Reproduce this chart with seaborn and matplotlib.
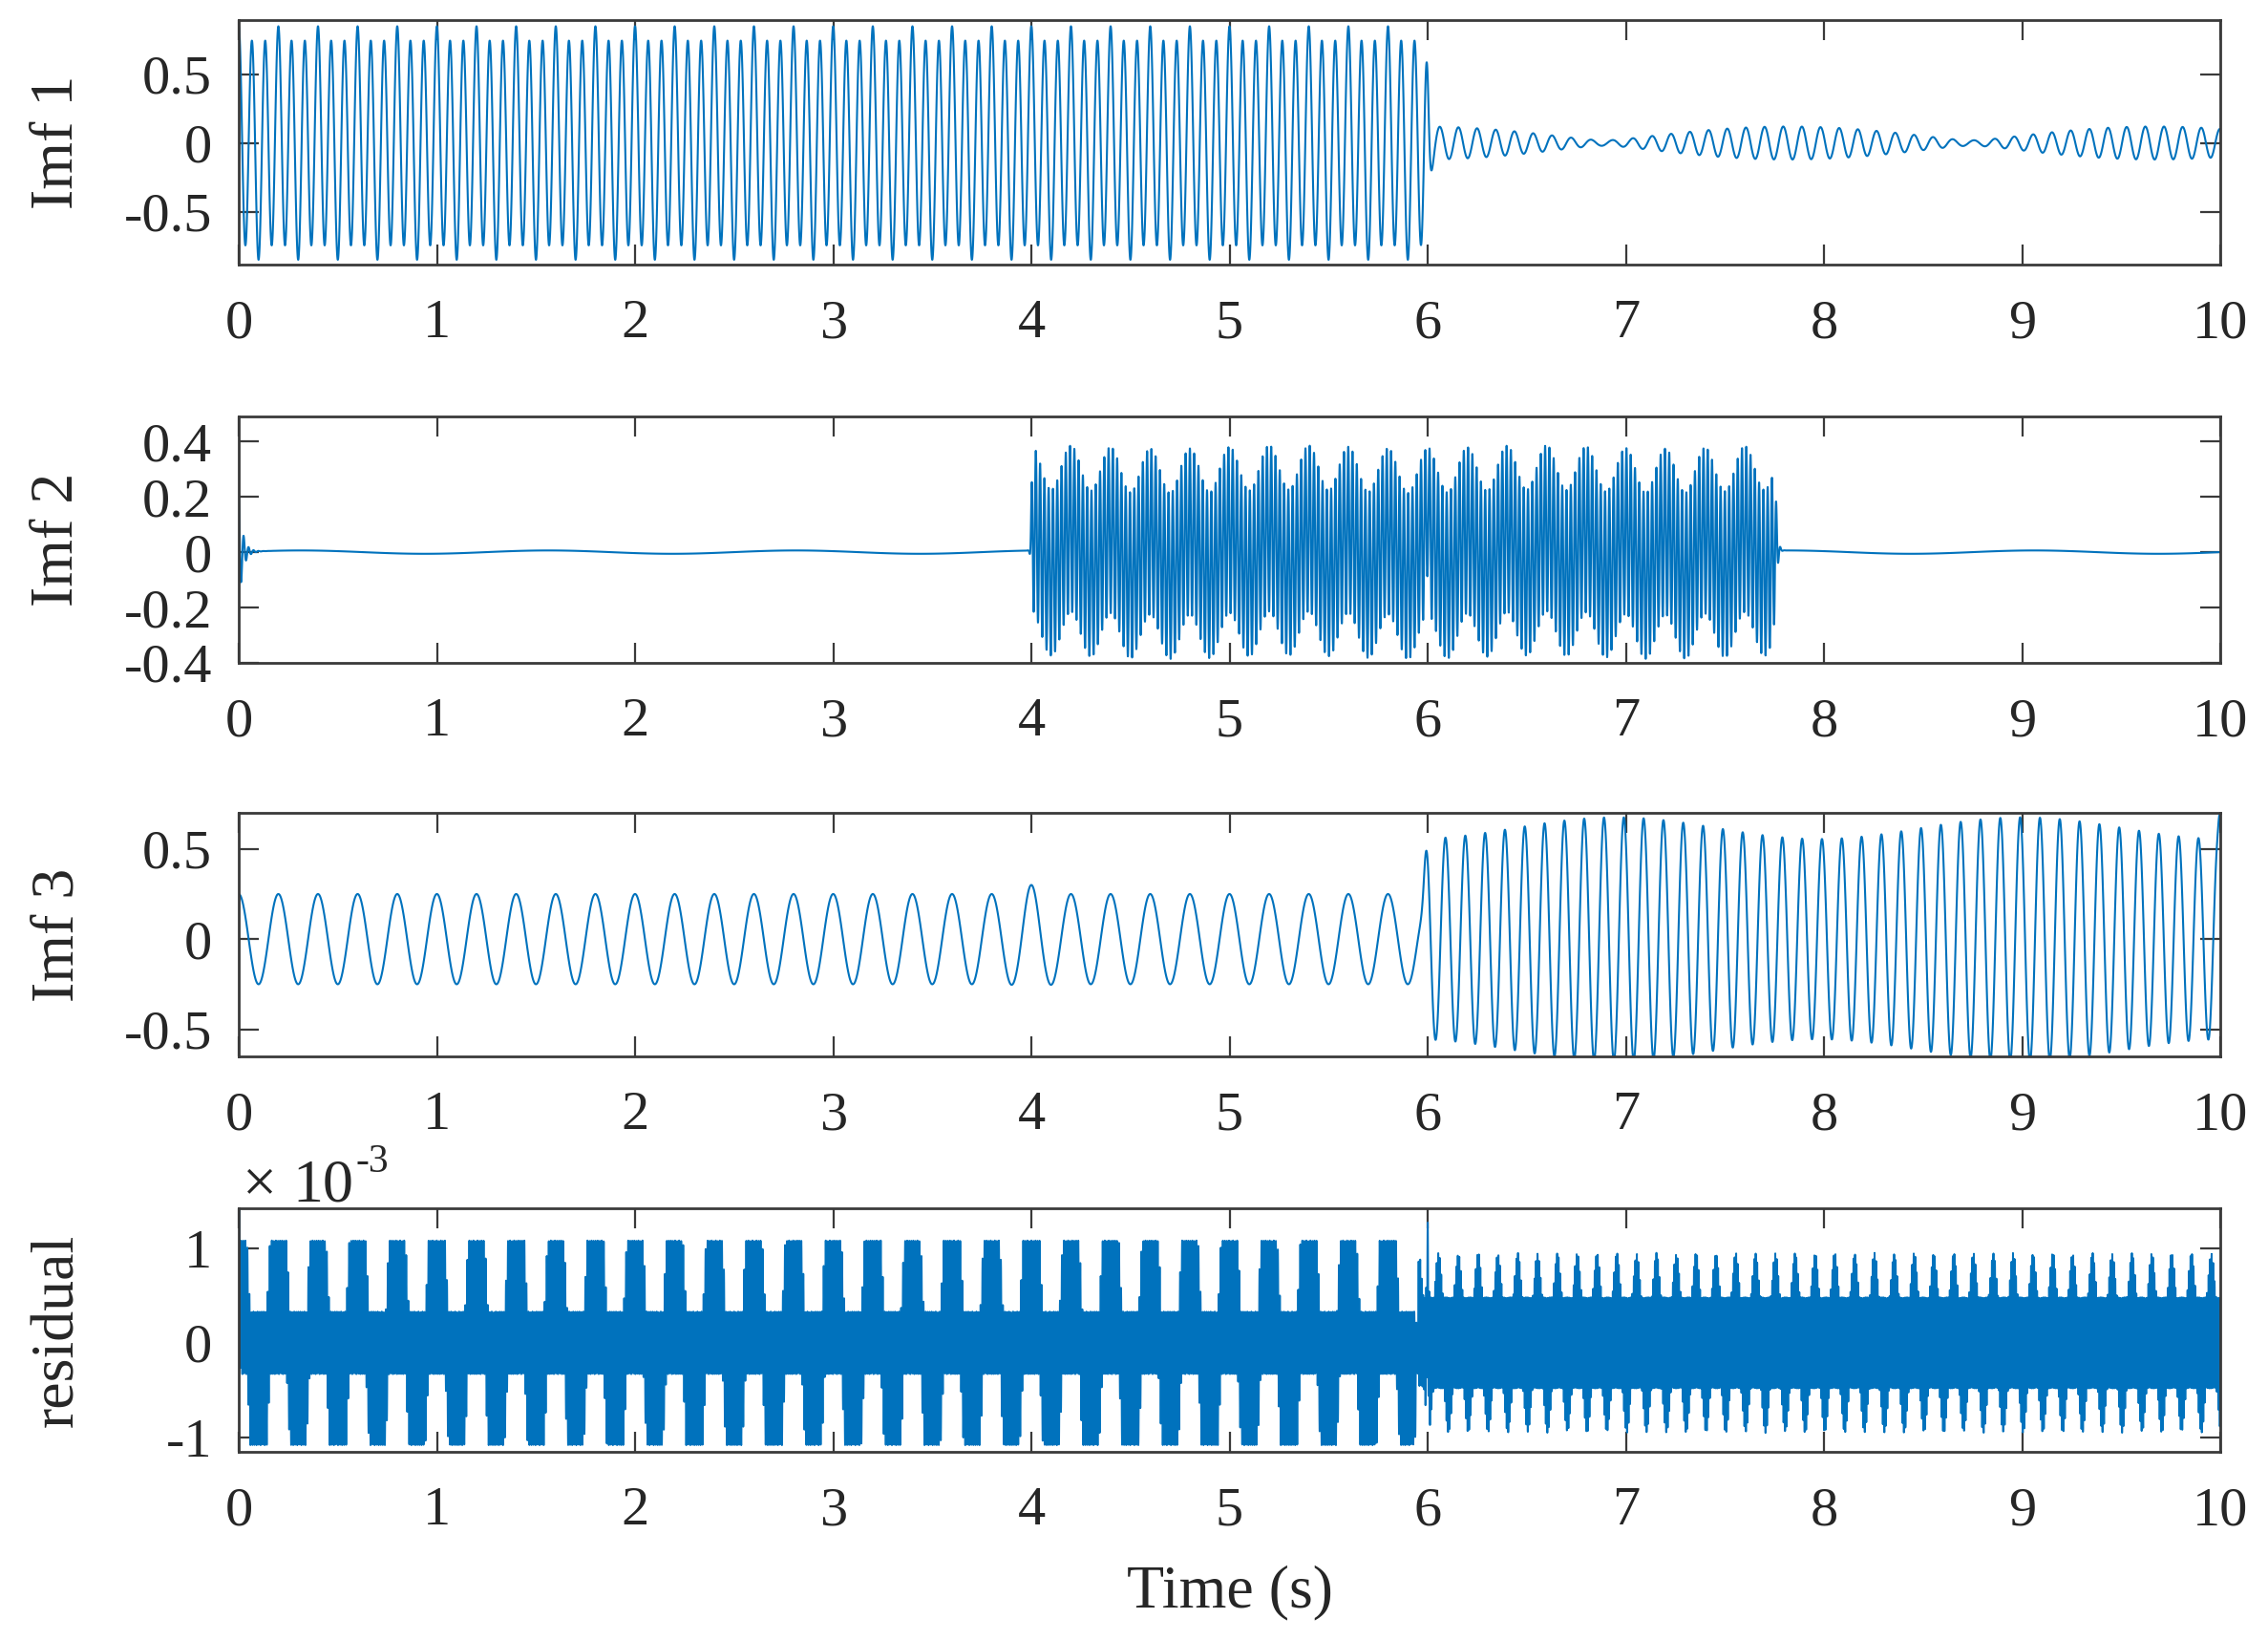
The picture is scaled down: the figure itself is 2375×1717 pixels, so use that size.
import numpy as np
import pandas as pd
import matplotlib
matplotlib.use("Agg")
import matplotlib.pyplot as plt
import seaborn as sns

# ----------------------------------------------------------------------------
# Values (time in s)
# ----------------------------------------------------------------------------
T_END = 10.0
FS = 2000  # samples per second

# Imf 1: 15 Hz tone with a small 5 Hz leak up to ~6 s, then a weak beating ~10 Hz tone
IMF1_EARLY_FREQS = [15.0, 5.0]
IMF1_EARLY_AMPS = [0.78, 0.07]
IMF1_SWITCH = 6.005
IMF1_LATE_FREQS = [10.4, 10.94]
IMF1_LATE_AMPS = [0.07, 0.05]
IMF1_LATE_T0 = 5.967
IMF1_KICK = [6.015, -0.08]          # (time, depth) of the dip after the switch

# Imf 2: burst between 4 s and 7.75 s
IMF2_BURST = [4.0, 7.76]
IMF2_FREQS = [46.3, 5.0]
IMF2_AMPS = [0.30, 0.08]
IMF2_RIPPLE = [0.8, 0.006]          # (freq, amp) of the near-zero ripple
IMF2_START_SPIKE = [40.0, 0.2]      # damped start transient (freq, amp)
IMF2_SPIKE = [6.0, 0.15]            # spike at 6 s (time, amp)

# Imf 3: 5 Hz tone, then 10 Hz tone with a slow envelope
IMF3_EARLY = [5.0, 0.25]            # (freq, amp)
IMF3_BUMP = [4.0, 0.05]             # small amplitude bump at 4 s
IMF3_SWITCH = 5.982
IMF3_LATE_FREQ = 10.0
IMF3_LATE_PEAK = 0.09               # phase: peaks at 6.09, 6.19, ...
IMF3_ENV = [0.615, 0.06]            # mean, swing of the envelope
IMF3_ENV_PERIOD = 2.05
IMF3_ENV_PEAK = 6.95
IMF3_END = [10.0, 0.2]              # end effect at the right edge

# residual, in units of 1e-3
RES_EARLY = [5.0, 0.375, 0.705]     # square-ish part freq, amp, carrier amp
RES_LATE = [10.0, 0.47, 0.48]       # spike rate, spike height, band half-width
RES_LATE_PEAK = 0.055
RES_CARRIERS = [97.3, 131.7]        # carrier freq before / after the switch
RES_SWITCH = 5.95
RES_SPIKES = [(0.0, 0.7), (6.0, 0.8)]

YLABELS = ["Imf 1", "Imf 2", "Imf 3", "residual"]
YTICKS = [[-0.5, 0, 0.5], [-0.4, -0.2, 0, 0.2, 0.4], [-0.5, 0, 0.5], [-1, 0, 1]]
YTICKLABELS = [["-0.5", "0", "0.5"], ["-0.4", "-0.2", "0", "0.2", "0.4"],
               ["-0.5", "0", "0.5"], ["-1", "0", "1"]]
YLIMS = [(-0.885, 0.895), (-0.40, 0.49), (-0.65, 0.70), (-1.15, 1.42)]
XTICKS = list(range(0, 11))

# ----------------------------------------------------------------------------
# build the component signals from the parameters above
# ----------------------------------------------------------------------------
t = np.arange(int(T_END * FS) + 1) / FS
tau = 2 * np.pi


def step(c, w):
    return 0.5 * (1 + np.tanh((t - c) / w))


early = sum(a * np.cos(tau * f * t) for f, a in zip(IMF1_EARLY_FREQS, IMF1_EARLY_AMPS))
late = sum(a * np.cos(tau * f * (t - IMF1_LATE_T0)) for f, a in zip(IMF1_LATE_FREQS, IMF1_LATE_AMPS))
imf1 = (early * (1 - step(IMF1_SWITCH, 0.012)) + late * step(5.99, 0.01)
        + IMF1_KICK[1] * np.exp(-((t - IMF1_KICK[0]) / 0.02) ** 2))

burst = step(IMF2_BURST[0], 0.006) * (1 - step(IMF2_BURST[1], 0.012))
imf2 = (burst * (IMF2_AMPS[0] * np.sin(tau * IMF2_FREQS[0] * t)
                 + IMF2_AMPS[1] * np.cos(tau * IMF2_FREQS[1] * t))
        + IMF2_RIPPLE[1] * np.sin(tau * IMF2_RIPPLE[0] * t)
        + IMF2_START_SPIKE[1] * np.exp(-t / 0.02) * np.cos(tau * IMF2_START_SPIKE[0] * t)
        + IMF2_SPIKE[1] * np.exp(-((t - IMF2_SPIKE[0]) / 0.005) ** 2))

on3 = step(IMF3_SWITCH, 0.015)
amp3 = IMF3_EARLY[1] + IMF3_BUMP[1] * np.exp(-((t - IMF3_BUMP[0]) / 0.06) ** 2)
env3 = IMF3_ENV[0] + IMF3_ENV[1] * np.cos(tau * (t - IMF3_ENV_PEAK) / IMF3_ENV_PERIOD)
imf3 = (amp3 * np.cos(tau * IMF3_EARLY[0] * t) * (1 - on3)
        + env3 * np.cos(tau * IMF3_LATE_FREQ * (t - IMF3_LATE_PEAK)) * on3
        + IMF3_END[1] * np.exp(-((t - IMF3_END[0]) / 0.01) ** 2))

on4 = step(RES_SWITCH, 0.01)
res_early = (RES_EARLY[1] * np.clip(4 * np.cos(tau * RES_EARLY[0] * t), -1, 1)
             + RES_EARLY[2] * np.sin(tau * RES_CARRIERS[0] * t))
# after the switch: solid band with alternating upper / lower spikes
phase = np.cos(tau * RES_LATE[0] * (t - RES_LATE_PEAK))
spike_up = np.clip(phase, 0, None) ** 1.5
spike_dn = np.clip(-phase, 0, None) ** 1.5
c4 = np.sin(tau * RES_CARRIERS[1] * t)
res_late = np.where(c4 > 0, c4 * (RES_LATE[2] + RES_LATE[1] * spike_up),
                    c4 * (RES_LATE[2] + RES_LATE[1] * spike_dn))
residual = res_early * (1 - on4) + res_late * on4
for ts, a in RES_SPIKES:
    residual = residual + a * np.exp(-((t - ts) / 0.005) ** 2)

df = pd.DataFrame({"t": t, "Imf 1": imf1, "Imf 2": imf2, "Imf 3": imf3, "residual": residual})

# ----------------------------------------------------------------------------
# figure
# ----------------------------------------------------------------------------
sns.set_theme(style="ticks")
plt.rcParams["font.family"] = ["Liberation Serif", "DejaVu Serif"]
plt.rcParams["axes.unicode_minus"] = False
plt.rcParams["path.simplify"] = False   # keep every oscillation of the dense traces

FRAME = "#3a3a3a"
TEXT = "#262626"
LINE = "#0072BD"

fig = plt.figure(figsize=(23.75, 17.17), dpi=100)
H = 1717.0
panel_px = [(21, 277), (436, 694), (851, 1106), (1265, 1520)]
left, width = 250 / 2375, (2325 - 250) / 2375
line_w = [1.5, 1.5, 1.5, 1.4]

for i, (col, (top, bot)) in enumerate(zip(YLABELS, panel_px)):
    ax = fig.add_axes([left, 1 - bot / H, width, (bot - top) / H])
    sns.lineplot(data=df, x="t", y=col, ax=ax, color=LINE, linewidth=line_w[i],
                 estimator=None, errorbar=None, sort=False)
    ax.set_xlim(0, T_END)
    ax.set_ylim(*YLIMS[i])
    ax.set_xticks(XTICKS)
    ax.set_xticklabels([str(x) for x in XTICKS])
    ax.set_yticks(YTICKS[i])
    ax.set_yticklabels(YTICKLABELS[i])
    ax.tick_params(direction="in", top=True, right=True, length=15, width=1.6,
                   color=FRAME, labelcolor=TEXT, labelsize=42)
    ax.tick_params(axis="x", pad=26)
    ax.tick_params(axis="y", pad=20)
    for sp in ax.spines.values():
        sp.set_color(FRAME)
        sp.set_linewidth(2.0)
    ax.set_xlabel("")
    ax.set_ylabel(col, fontsize=46, color=TEXT)
    ax.yaxis.set_label_coords(-0.077, 0.5)
    if i == 3:
        ax.set_xlabel("Time (s)", fontsize=46, color=TEXT, labelpad=22)
        ax.text(0.002, 1.03, "\u00d7", transform=ax.transAxes, ha="left",
                va="baseline", fontsize=46, color=TEXT)
        ax.text(0.027, 1.03, "10", transform=ax.transAxes, ha="left",
                va="baseline", fontsize=46, color=TEXT)
        ax.text(0.059, 1.15, "-3", transform=ax.transAxes, ha="left",
                va="baseline", fontsize=30, color=TEXT)

fig.savefig("out.png", dpi=100)
